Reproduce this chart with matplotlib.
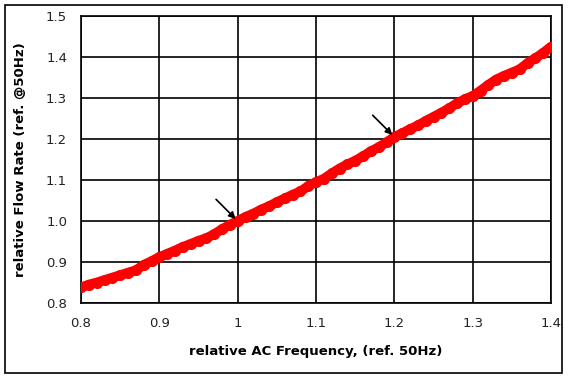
import numpy as np
import matplotlib.pyplot as plt
from matplotlib.patches import Rectangle

# relative frequency vs relative flow rate
freq = [0.80, 0.81, 0.82, 0.83, 0.84, 0.85, 0.86, 0.87, 0.88, 0.89,
        0.90, 0.91, 0.92, 0.93, 0.94, 0.95, 0.96, 0.97, 0.98, 0.99,
        1.00, 1.01, 1.02, 1.03, 1.04, 1.05, 1.06, 1.07, 1.08, 1.09,
        1.10, 1.11, 1.12, 1.13, 1.14, 1.15, 1.16, 1.17, 1.18, 1.19,
        1.20, 1.21, 1.22, 1.23, 1.24, 1.25, 1.26, 1.27, 1.28, 1.29,
        1.30, 1.31, 1.32, 1.33, 1.34, 1.35, 1.36, 1.37, 1.38, 1.39, 1.40]
flow = [0.838, 0.845, 0.850, 0.856, 0.862, 0.868, 0.874, 0.880, 0.893, 0.902,
        0.912, 0.920, 0.928, 0.937, 0.944, 0.952, 0.958, 0.968, 0.980, 0.991,
        1.000, 1.010, 1.018, 1.028, 1.036, 1.046, 1.055, 1.064, 1.072, 1.085,
        1.095, 1.103, 1.116, 1.128, 1.138, 1.147, 1.158, 1.170, 1.180, 1.192,
        1.205, 1.214, 1.224, 1.233, 1.244, 1.254, 1.264, 1.275, 1.287, 1.297,
        1.305, 1.318, 1.332, 1.345, 1.354, 1.362, 1.370, 1.385, 1.397, 1.410, 1.425]

# points marked with arrows
arrow_pts = [(1.0, 1.0), (1.2, 1.205)]

fig = plt.figure(figsize=(5.69, 3.80), dpi=100)
ax = fig.add_axes([0.1424, 0.2026, 0.8260, 0.7554])

ax.plot(freq, flow, color='#ff0000', lw=7, marker='o', ms=7,
        solid_capstyle='round', zorder=3)

for (x, y) in arrow_pts:
    ax.annotate('', xy=(x, y), xytext=(-17, 17), textcoords='offset points',
                arrowprops=dict(arrowstyle='-|>', color='black', lw=1.2,
                                mutation_scale=10), zorder=4)

ax.set_xlim(0.8, 1.4)
ax.set_ylim(0.8, 1.5)
ax.set_xticks([0.8, 0.9, 1.0, 1.1, 1.2, 1.3, 1.4])
ax.set_xticklabels(['0.8', '0.9', '1', '1.1', '1.2', '1.3', '1.4'])
ax.set_yticks([0.8, 0.9, 1.0, 1.1, 1.2, 1.3, 1.4, 1.5])
ax.set_yticklabels(['0.8', '0.9', '1.0', '1.1', '1.2', '1.3', '1.4', '1.5'])
ax.grid(True, color='black', lw=1.2)
ax.set_axisbelow(True)
for s in ax.spines.values():
    s.set_linewidth(1.2)
ax.tick_params(length=0, labelsize=9.5, pad=10, labelcolor='#222222')

ax.set_xlabel('relative AC Frequency, (ref. 50Hz)', fontsize=9.5,
              fontweight='bold', labelpad=11)
ax.set_ylabel('relative Flow Rate (ref. @50Hz)', fontsize=9.5,
              fontweight='bold', labelpad=14)

# outer chart border
fig.patches.append(Rectangle((5 / 569, 1 - 373 / 380), 557 / 569, 368 / 380,
                             transform=fig.transFigure, fill=False,
                             edgecolor='black', lw=1.2))

plt.savefig('out.png', dpi=100)
